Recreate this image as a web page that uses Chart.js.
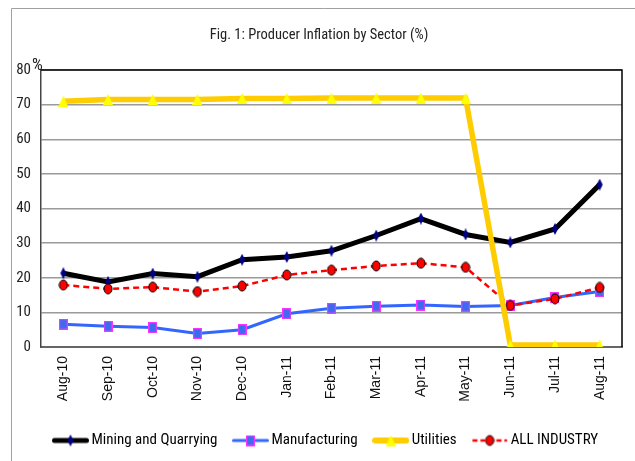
<!DOCTYPE html>
<html>
<head>
<meta charset="utf-8">
<script src="https://cdn.jsdelivr.net/npm/chart.js@4.4.0/dist/chart.umd.min.js"></script>
<style>
  html, body { margin: 0; padding: 0; background: #fff; }
  #wrap { width: 635px; height: 461px; position: relative; }
</style>
</head>
<body>
<div id="wrap"><canvas id="ppiChart" width="635" height="461"></canvas></div>
<script>
const months = ['Aug-10', 'Sep-10', 'Oct-10', 'Nov-10', 'Dec-10', 'Jan-11', 'Feb-11', 'Mar-11', 'Apr-11', 'May-11', 'Jun-11', 'Jul-11', 'Aug-11'];
const mining = [21.3, 18.8, 21.2, 20.3, 25.2, 26.0, 27.8, 32.2, 37.1, 32.5, 30.2, 34.1, 46.9];
const manufacturing = [6.6, 6.0, 5.6, 3.9, 5.0, 9.6, 11.2, 11.8, 12.1, 11.7, 12.0, 14.3, 16.0];
const utilities = [71.0, 71.5, 71.5, 71.5, 71.8, 71.8, 71.9, 71.9, 71.9, 71.9, 0.6, 0.6, 0.6];
const allIndustry = [17.9, 16.8, 17.3, 16.0, 17.6, 20.8, 22.2, 23.4, 24.2, 23.0, 12.0, 13.9, 17.2];
const yTicks = [0, 10, 20, 30, 40, 50, 60, 70, 80];

const narrow = '"Roboto Condensed", "Liberation Sans", Arial, sans-serif';

// marker shapes, drawn on small canvases so they can be a bit taller than wide like in the original
function markerCanvas(w, h, draw) {
  const c = document.createElement('canvas');
  c.width = w; c.height = h;
  draw(c.getContext('2d'), w, h);
  return c;
}
const diamond = markerCanvas(8, 12, function (g, w, h) {
  g.fillStyle = '#000080';
  g.beginPath(); g.moveTo(w / 2, 0); g.lineTo(w - 1, h / 2); g.lineTo(w / 2, h); g.lineTo(1, h / 2); g.closePath(); g.fill();
});
const square = markerCanvas(9, 11, function (g, w, h) {
  g.fillStyle = '#3a6cf0'; g.fillRect(0, 0, w, h);
  g.strokeStyle = '#ff33ff'; g.lineWidth = 1.2; g.strokeRect(0.6, 0.6, w - 1.2, h - 1.2);
});
const triangle = markerCanvas(10, 11, function (g, w, h) {
  g.fillStyle = '#ffff00';
  g.beginPath(); g.moveTo(w / 2, 0); g.lineTo(w, h); g.lineTo(0, h); g.closePath(); g.fill();
});
const oval = markerCanvas(10, 12, function (g, w, h) {
  g.fillStyle = '#ff0000'; g.strokeStyle = '#000'; g.lineWidth = 1;
  g.beginPath(); g.ellipse(w / 2, h / 2, w / 2 - 1, h / 2 - 1, 0, 0, Math.PI * 2); g.fill(); g.stroke();
});

// legend swatch: line segment with the marker in the middle
function legendSwatch(color, width, dash, marker) {
  return markerCanvas(37, 16, function (g, w, h) {
    g.strokeStyle = color;
    g.lineWidth = width;
    g.lineCap = dash.length ? 'butt' : 'round';
    g.setLineDash(dash);
    g.beginPath(); g.moveTo(width / 2, h / 2); g.lineTo(w - width / 2, h / 2); g.stroke();
    g.drawImage(marker, (w - marker.width) / 2, (h - marker.height) / 2);
  });
}
const swatches = [
  legendSwatch('#000000', 5, [], diamond),
  legendSwatch('#3366ff', 3, [], square),
  legendSwatch('#ffcc00', 6, [], triangle),
  legendSwatch('#ff0000', 2.5, [5, 3], oval)
];

// outer frame, black top/right border of the plot, the % sign, and nudging title/legend sideways
const framePlugin = {
  id: 'frame',
  beforeDraw(chart) {
    chart.titleBlock.left = 16;
    chart.titleBlock.right = 622;
    chart.legend.left = 37.5;
    const ctx = chart.ctx;
    ctx.save();
    ctx.fillStyle = '#fff';
    ctx.fillRect(0, 0, chart.width, chart.height);
    ctx.strokeStyle = '#a0a0a0';
    ctx.lineWidth = 1;
    ctx.beginPath();
    ctx.moveTo(11.5, chart.height);
    ctx.lineTo(11.5, 8.5);
    ctx.lineTo(chart.width, 8.5);
    ctx.stroke();
    ctx.restore();
  },
  afterDatasetsDraw(chart) {
    const ctx = chart.ctx;
    const a = chart.chartArea;
    ctx.save();
    ctx.strokeStyle = '#000';
    ctx.lineWidth = 1.5;
    ctx.beginPath();
    ctx.moveTo(a.left, a.top);
    ctx.lineTo(a.right, a.top);
    ctx.lineTo(a.right, a.bottom);
    ctx.stroke();
    ctx.fillStyle = '#222';
    ctx.font = '17px ' + narrow;
    ctx.textAlign = 'left';
    ctx.textBaseline = 'alphabetic';
    ctx.fillText('%', a.left - 9, a.top);
    ctx.restore();
  }
};

const ctx = document.getElementById('ppiChart').getContext('2d');
const ppiChart = new Chart(ctx, {
  type: 'line',
  data: {
    labels: months,
    datasets: [{
      label: 'Mining and Quarrying',
      data: mining,
      borderColor: '#000000',
      borderWidth: 5,
      pointStyle: diamond,
      order: 3
    }, {
      label: 'Manufacturing',
      data: manufacturing,
      borderColor: '#3366ff',
      borderWidth: 3,
      pointStyle: square,
      order: 4
    }, {
      label: 'Utilities',
      data: utilities,
      borderColor: '#ffcc00',
      borderWidth: 5.5,
      pointStyle: triangle,
      order: 1
    }, {
      label: 'ALL INDUSTRY',
      data: allIndustry,
      borderColor: '#ff0000',
      borderWidth: 2.5,
      borderDash: [6, 4],
      pointStyle: oval,
      order: 2
    }]
  },
  options: {
    responsive: false,
    animation: false,
    layout: { padding: { left: 0, right: 13, top: 0, bottom: 3 } },
    elements: {
      line: { tension: 0, borderCapStyle: 'butt' },
      point: { radius: 5 }
    },
    plugins: {
      title: {
        display: true,
        text: 'Fig. 1: Producer Inflation by Sector (%)',
        color: '#222',
        font: { family: narrow, size: 14.5, weight: 'normal' },
        padding: { top: 26.3, bottom: 26.3 }
      },
      legend: {
        position: 'bottom',
        align: 'start',
        labels: {
          usePointStyle: true,
          pointStyleWidth: 27,
          padding: 19.5,
          color: '#111',
          font: { family: narrow, size: 15 },
          generateLabels(chart) {
            return chart.data.datasets.map(function (ds, i) {
              return { text: ds.label, pointStyle: swatches[i], datasetIndex: i, lineWidth: 0, strokeStyle: 'transparent', fillStyle: 'transparent' };
            });
          }
        }
      },
      tooltip: { enabled: false }
    },
    scales: {
      x: {
        offset: true,
        grid: { display: false, drawTicks: false },
        border: { color: '#666', width: 2 },
        ticks: {
          autoSkip: false,
          minRotation: 90,
          maxRotation: 90,
          padding: 9,
          color: '#111',
          font: { family: '"Liberation Sans", Arial, sans-serif', size: 14 }
        },
        afterFit(scale) { scale.height = 66.5; }
      },
      y: {
        min: 0,
        max: 80,
        afterBuildTicks(scale) { scale.ticks = yTicks.map(v => ({ value: v })); },
        grid: { color: '#9a9a9a', lineWidth: 1.5, drawTicks: false },
        border: { color: '#444', width: 1.5 },
        ticks: {
          padding: 10,
          color: '#222',
          font: { family: narrow, size: 15 }
        },
        afterFit(scale) { scale.width = 41; }
      }
    }
  },
  plugins: [framePlugin]
});
</script>
</body>
</html>
